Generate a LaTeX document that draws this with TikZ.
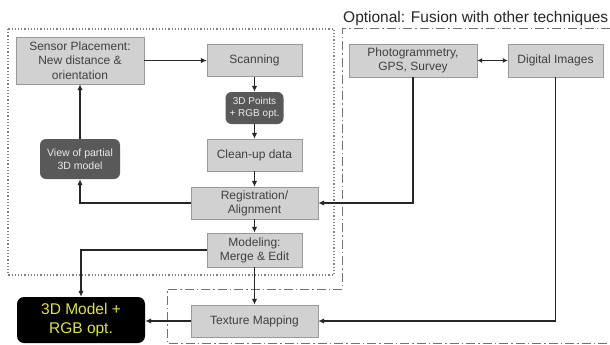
\documentclass[tikz,border=0pt]{standalone}
\usepackage{fontspec}
\setmainfont{Liberation Sans}
\usetikzlibrary{arrows.meta, positioning}

\begin{document}
\begin{tikzpicture}[x=1pt, y=-1pt, >={Latex[length=6pt,width=5.5pt]},
    stepbox/.style={draw=black!40, fill=black!18, text=black!75, align=center,
        inner sep=0pt, minimum height=32pt, font=\fontsize{12}{14.5}\selectfont},
    darkbox/.style={rounded corners=6pt, fill=black!65, text=black!8, align=center,
        inner sep=0pt, font=\fontsize{10.5}{12.5}\selectfont},
    flow/.style={->, line width=1.7pt, black!85}]
        \useasboundingbox (0,0) rectangle (610,345);

        % Frames
        \draw[black!50, dotted, line width=1.2pt] (8,29) rectangle (334,275);
        \draw[black!55, line width=1pt, dash pattern=on 9pt off 3pt on 1.5pt off 3pt]
            (610,29) -- (342,29) -- (342,289) -- (167,289) -- (167,343) -- (610,343);
        \node[anchor=west, text=black!85, inner sep=0pt, font=\fontsize{15.5}{18}\selectfont]
            (title) at (343,18) {Optional: Fusion with other techniques};

        % Scanning loop
        \node[stepbox, minimum width=128pt, minimum height=47pt] (sensor) at (80,60.5)
            {Sensor Placement:\\New distance \&\\orientation};
        \node[stepbox, minimum width=95pt] (scan) at (254.5,60.5) {Scanning};
        \node[darkbox, minimum width=58pt, minimum height=32pt, font=\fontsize{10}{12}\selectfont]
            (points) at (254.5,108) {3D Points\\+ RGB opt.};
        \node[stepbox, minimum width=95pt] (clean) at (254.5,155) {Clean-up data};
        \node[darkbox, minimum width=80pt, minimum height=40pt] (view) at (80,159)
            {View of partial\\3D model};
        \node[stepbox, minimum width=127pt, font=\fontsize{12}{14}\selectfont] (reg) at (254.5,203)
            {Registration/\\Alignment};
        \node[stepbox, minimum width=95pt, minimum height=34pt, font=\fontsize{12}{14}\selectfont]
            (model) at (254.5,250) {Modeling:\\Merge \& Edit};
        \node[stepbox, minimum width=127pt] (texture) at (254.5,321) {Texture Mapping};
        \node[rounded corners=7pt, fill=black, text={rgb,255:red,225;green,225;blue,60},
            align=center, inner sep=0pt, minimum width=128pt, minimum height=46pt,
            font=\fontsize{15.5}{19}\selectfont] (result) at (81,320) {3D Model +\\RGB opt.};

        % Other techniques
        \node[stepbox, minimum width=128pt, minimum height=33pt, font=\fontsize{12}{13.5}\selectfont]
            (photo) at (413,60.5) {Photogrammetry,\\GPS, Survey};
        \node[stepbox, minimum width=95pt, minimum height=33pt] (digital) at (555.5,60.5)
            {Digital Images};

        % Connectors
        \draw[flow] (sensor) -- (scan);
        \foreach \a/\b in {scan/points, points/clean, clean/reg, reg/model, model/texture}
            \draw[flow] (\a) -- (\b);
        \draw[flow] (reg.west) -| (view.south);
        \draw[flow] (view) -- (sensor);
        \draw[flow] (model.west) -| (result.north);
        \draw[flow] (texture.west) -- (texture.west -| result.east);
        \draw[flow, <->, >={Latex[length=5pt,width=5pt]}] (photo) -- (digital);
        \draw[flow] (photo.south) |- (reg.east);
        \draw[flow] (digital.south) |- (texture.east);
    \end{tikzpicture}
\end{document}
